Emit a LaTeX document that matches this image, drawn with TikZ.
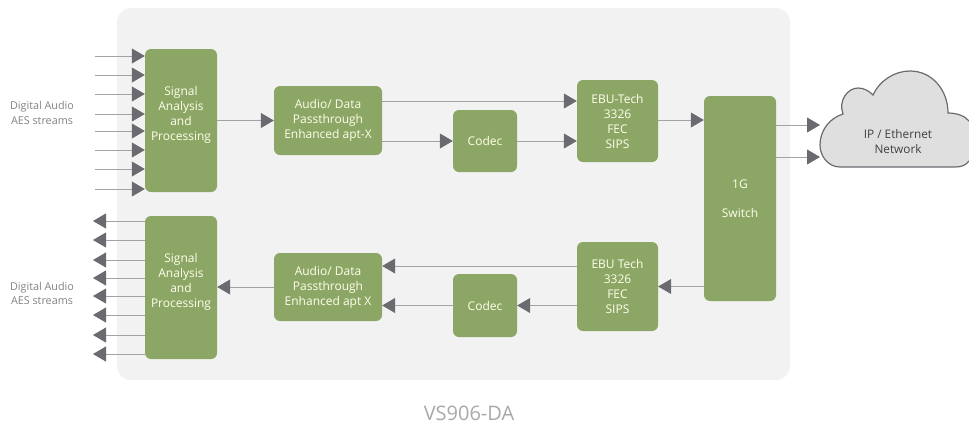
\documentclass[tikz,border=0pt]{standalone}
\usepackage{fontspec}
\setmainfont{Open Sans}
\usetikzlibrary{arrows.meta}
\definecolor{blockgreen}{HTML}{8CA765}
\definecolor{panelgray}{HTML}{F2F2F2}
\definecolor{tipgray}{HTML}{6A6B70}
\definecolor{linegray}{HTML}{A3A3A5}
\definecolor{labelgray}{HTML}{808285}
\begin{document}
\begin{tikzpicture}[x=1pt,y=-1pt,
    block/.style={fill=blockgreen,rounded corners=6pt,inner sep=0pt,align=center,
        text=white!92!yellow,font=\fontsize{12}{15}\selectfont},
    flow/.style={draw=linegray,line width=0.8pt,
        -{Triangle[length=13pt,width=15pt,color=tipgray]}},
    sidelabel/.style={text=labelgray,align=center,font=\fontsize{10.8}{14.5}\selectfont}]
    \useasboundingbox (0,0) rectangle (969,424);

    % Panel
    \fill[panelgray,rounded corners=14pt] (117,8) rectangle (790,380);

    % Blocks
    \node[block,minimum width=72pt,minimum height=143pt] (sigA) at (181,120.5) {Signal\\Analysis\\and\\Processing\\~};
    \node[block,minimum width=108pt,minimum height=69pt] (audA) at (328,120.5) {Audio/ Data\\Passthrough\\Enhanced apt-X};
    \node[block,minimum width=64pt,minimum height=62pt] (codA) at (485,141) {Codec};
    \node[block,minimum width=81pt,minimum height=82pt] (ebuA) at (617.5,121) {EBU-Tech\\3326\\FEC\\SIPS};
    \node[block,minimum width=72pt,minimum height=205pt] (swt) at (740,198.5) {1G\\[14pt]Switch};
    \node[block,minimum width=72pt,minimum height=143pt] (sigB) at (181,287.5) {Signal\\Analysis\\and\\Processing\\~};
    \node[block,minimum width=108pt,minimum height=68pt] (audB) at (328,287) {Audio/ Data\\Passthrough\\Enhanced apt X};
    \node[block,minimum width=64pt,minimum height=63pt] (codB) at (485,305.5) {Codec};
    \node[block,minimum width=81pt,minimum height=89pt] (ebuB) at (617.5,286.5) {EBU Tech\\3326\\FEC\\SIPS};

    % Cloud
    \path[fill=panelgray!92!black,draw=tipgray,line width=1.2pt]
        (969,161) .. controls (966,165) and (962,167) .. (955,167)
        -- (840,167) .. controls (828,167) and (820,156) .. (820,145)
        .. controls (820,130) and (830,118) .. (843,114)
        .. controls (838,100) and (848,88) .. (858,88)
        .. controls (864,88) and (869,91) .. (873,95)
        .. controls (880,80) and (895,71) .. (910,71)
        .. controls (932,71) and (948,90) .. (948,113)
        .. controls (957,113) and (965,116) .. (969,121);
    \node[text=black!75,align=center,inner sep=0pt,font=\fontsize{11.8}{15}\selectfont] (net) at (898,141.5) {IP / Ethernet\\Network};
    \coordinate (netA) at (820,125);
    \coordinate (netB) at (820,157);

    % Inputs
    \foreach \n/\y in {1/56,2/75,3/94,4/114,5/131,6/150,7/169,8/189} {
        \coordinate (inA\n) at (95,\y);
        \draw[flow] (inA\n) -- (inA\n -| sigA.west);
    }

    % Outputs
    \foreach \n/\y in {1/221,2/240,3/260,4/278,5/296,6/315,7/335,8/354} {
        \coordinate (outB\n) at (93,\y);
        \draw[flow] (outB\n -| sigB.west) -- (outB\n);
    }

    % Top path
    \draw[flow] (sigA.east) -- (audA.west);
    \draw[flow] (audA.east |- 0,101) -- (ebuA.west |- 0,101);
    \draw[flow] (audA.east |- codA.west) -- (codA.west);
    \draw[flow] (codA.east) -- (ebuA.west |- codA.east);
    \draw[flow] (ebuA.east |- 0,120) -- (swt.west |- 0,120);
    \draw[flow] (swt.east |- netA) -- (netA);
    \draw[flow] (swt.east |- netB) -- (netB);

    % Bottom path
    \draw[flow] (swt.west |- ebuB.east) -- (ebuB.east);
    \draw[flow] (ebuB.west |- 0,266) -- (audB.east |- 0,266);
    \draw[flow] (ebuB.west |- codB.east) -- (codB.east);
    \draw[flow] (codB.west) -- (audB.east |- codB.west);
    \draw[flow] (audB.west) -- (sigB.east |- audB.west);

    % Labels
    \node[sidelabel] (labA) at (42,113) {Digital Audio\\AES streams};
    \node[sidelabel] (labB) at (42,293.5) {Digital Audio\\AES streams};
    \node[text=labelgray!70,font=\fontsize{20}{22}\selectfont] (title) at (469,413) {VS906-DA};
\end{tikzpicture}
\end{document}
